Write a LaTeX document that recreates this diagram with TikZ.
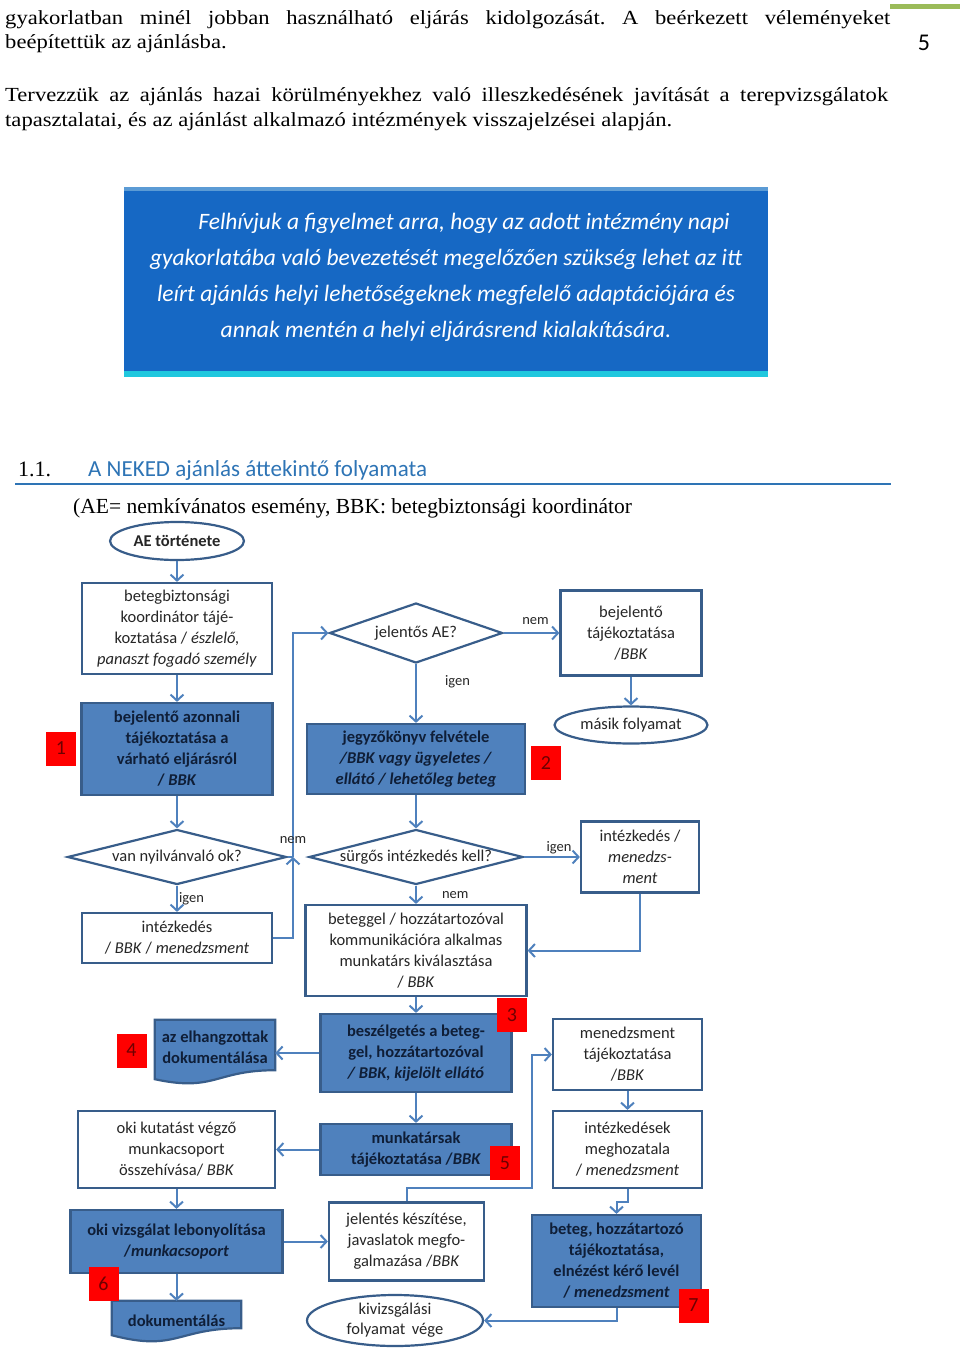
\documentclass[tikz,border=0pt]{standalone}
\usepackage{fontspec}
\setmainfont{Liberation Serif}
\newfontfamily\bodyfont[FakeStretch=1.13]{Liberation Serif}
\newfontfamily\calib{Carlito}
\usetikzlibrary{arrows.meta, shapes.geometric, calc, backgrounds}
\definecolor{flowblue}{RGB}{79,129,189}
\definecolor{boxline}{RGB}{56,93,138}
\definecolor{boxtext}{RGB}{38,38,38}
\definecolor{navytext}{RGB}{15,30,55}
\definecolor{tagred}{RGB}{255,0,0}
\definecolor{tagtext}{RGB}{110,0,0}
\definecolor{bannerblue}{RGB}{22,104,196}
\definecolor{bannertop}{RGB}{91,155,213}
\definecolor{bannerbot}{RGB}{32,200,222}
\definecolor{headblue}{RGB}{46,116,181}
\definecolor{pagegreen}{RGB}{155,187,89}
\frenchspacing
\begin{document}
\begin{tikzpicture}[x=1pt, y=-1pt,
		>={Straight Barb[length=6pt,width=13pt]},
		bodyline/.style={anchor=base west, inner sep=0pt, font=\bodyfont\fontsize{20}{25}\selectfont},
		whitebox/.style={rectangle, draw=boxline, line width=2.2pt, fill=white, align=center, inner sep=0pt, text=boxtext, font=\calib\fontsize{16.5}{21}\selectfont},
		bluebox/.style={whitebox, fill=flowblue, text=navytext, font=\calib\bfseries\fontsize{16.5}{21}\selectfont},
		docbox/.style={rectangle, draw=none, align=center, inner sep=0pt, text=navytext, font=\calib\bfseries\fontsize{16.5}{21}\selectfont},
		docline/.style={draw=boxline, line width=2.2pt, fill=flowblue},
		roundbox/.style={ellipse, draw=boxline, line width=2.2pt, fill=white, align=center, inner sep=0pt, text=boxtext, font=\calib\fontsize{16.5}{20}\selectfont},
		decision/.style={diamond, draw=boxline, line width=2.2pt, fill=white, inner sep=0pt, label={[text=boxtext, font=\calib\fontsize{16.5}{20}\selectfont]center:#1}},
		tag/.style={rectangle, fill=tagred, text=tagtext, inner sep=0pt, minimum width=30, minimum height=34, font=\calib\fontsize{20}{20}\selectfont},
		flow/.style={->, draw=flowblue, line width=2pt},
		lbl/.style={inner sep=1pt, text=boxtext, font=\calib\fontsize{14.5}{16}\selectfont}
		]
		\useasboundingbox (0,0) rectangle (960,1358);

		\fill[pagegreen] (890,4) rectangle (960,9);
		\node[font=\calib\fontsize{24}{24}\selectfont] (P0) at (924,43) {5};
		\node[bodyline] (T0) at (5,24) {\makebox[885pt][s]{gyakorlatban minél jobban használható eljárás kidolgozását. A beérkezett véleményeket}};
		\node[bodyline] (T1) at (5,48) {beépítettük az ajánlásba.};
		\node[bodyline] (T2) at (5,101) {\makebox[883pt][s]{Tervezzük az ajánlás hazai körülményekhez való illeszkedésének javítását a terepvizsgálatok}};
		\node[bodyline] (T3) at (5,126) {tapasztalatai, és az ajánlást alkalmazó intézmények visszajelzései alapján.};

		\fill[bannerblue] (124,187) rectangle (768,377);
		\fill[bannertop] (124,187) rectangle (768,191);
		\fill[bannerbot] (124,371) rectangle (768,377);
		\node[align=center, text=white, font=\calib\itshape\fontsize{23.5}{36}\selectfont] (B0) at (446,277.5) {\hspace*{36pt}Felhívjuk a figyelmet arra, hogy az adott intézmény napi\\
			gyakorlatába való bevezetését megelőzően szükség lehet az itt\\
			leírt ajánlás helyi lehetőségeknek megfelelő adaptációjára és\\
			annak mentén a helyi eljárásrend kialakítására.};

		\node[anchor=base west, inner sep=0pt, font=\fontsize{22}{22}\selectfont] (H0) at (18,476) {1.1.};
		\node[anchor=base west, inner sep=0pt, text=headblue, font=\calib\fontsize{23}{23}\selectfont] (H1) at (88,476) {A NEKED ajánlás áttekintő folyamata};
		\draw[headblue, line width=2pt] (15,484) -- (891,484);
		\node[anchor=base west, inner sep=0pt, font=\fontsize{21.5}{21.5}\selectfont] (H2) at (73,513) {(AE= nemkívánatos esemény, BBK: betegbiztonsági koordinátor};

		\node[roundbox, font=\calib\bfseries\fontsize{16.5}{20}\selectfont, minimum width=134, minimum height=38] (S0) at (177,541) {AE története};
		\node[whitebox, minimum width=190, minimum height=91] (S1) at (177,628.5) {betegbiztonsági\\koordinátor tájé-\\koztatása / \textit{észlelő,}\\\textit{panaszt fogadó személy}};
		\draw[flow] (S0) -- (S1);
		\node[bluebox, minimum width=191, minimum height=92] (S2) at (177,749) {bejelentő azonnali\\tájékoztatása a\\várható eljárásról\\/ \textit{BBK}};
		\draw[flow] (S1) -- (S2);
		\node[decision={jelentős AE?}, minimum width=173, minimum height=60] (S4) at (416,633) {};
		\node[whitebox, minimum width=141, minimum height=85] (S5) at (631,633) {bejelentő\\tájékoztatása\\/\textit{BBK}};
		\draw[flow] (S4) -- (S5) node[lbl, midway, above, xshift=4, yshift=6]{nem};
		\node[roundbox, minimum width=153, minimum height=37] (S6) at (631,725) {másik folyamat};
		\draw[flow] (S5) -- (S6);
		\node[bluebox, minimum width=218, minimum height=70] (S7) at (416,759) {jegyzőkönyv felvétele\\\textit{/BBK vagy ügyeletes /}\\\textit{ellátó / lehetőleg beteg}};
		\draw[flow] (S4) -- (S7) node[lbl, pos=0.3, right, xshift=27]{igen};
		\node[decision={van nyilvánvaló ok?}, minimum width=219, minimum height=55] (S9) at (177,857) {};
		\draw[flow] (S2) -- (S9);
		\node[whitebox, minimum width=190, minimum height=50] (S10) at (177,938) {intézkedés\\/ \textit{BBK} / \textit{menedzsment}};
		\draw[flow] (S9) -- (S10) node[lbl, midway, right]{igen};
		\coordinate (C1) at (293,857);
		\draw[flow] (S10.east) -| (C1);
		\draw[flow] (C1) |- (S4.west);
		\draw[draw=flowblue, line width=2pt] (S9.east) -- (C1) node[lbl, above=11pt]{nem};
		\node[decision={sürgős intézkedés kell?}, minimum width=214, minimum height=55] (S11) at (416,857) {};
		\draw[flow] (S7) -- (S11);
		\node[whitebox, minimum width=118, minimum height=71] (S12) at (640,857) {intézkedés /\\\textit{menedzs-}\\\textit{ment}};
		\draw[flow] (S11) -- (S12) node[lbl, midway, above, xshift=7, yshift=1]{igen};
		\node[whitebox, minimum width=221, minimum height=91] (S13) at (416,950.5) {beteggel / hozzátartozóval\\kommunikációra alkalmas\\munkatárs kiválasztása\\/ \textit{BBK}};
		\draw[flow] (S11) -- (S13) node[lbl, midway, right, xshift=24]{nem};
		\draw[flow] (S12.south) |- (S13.east);
		\node[bluebox, minimum width=191, minimum height=78] (S15) at (416,1053) {beszélgetés a beteg-\\gel, hozzátartozóval\\\textit{/ BBK, kijelölt ellátó}};
		\draw[flow] (S13) -- (S15);
		\node[docbox, minimum width=120, minimum height=54] (S16) at (215,1047) {az elhangzottak\\dokumentálása};
		\begin{scope}[on background layer]
			\draw[docline] (S16.north west) -- (S16.north east) -- ($(S16.south east)+(0,-4)$) .. controls ($(S16.south)+(0,-4)$) and ($(S16.south)+(0,18)$) .. ($(S16.south west)+(0,5)$) -- cycle;
		\end{scope}
		\draw[flow] (S15.west) -- (S15.west -| S16.east);
		\node[whitebox, minimum width=149, minimum height=71] (S18) at (627.5,1054.5) {menedzsment\\tájékoztatása\\/\textit{BBK}};
		\node[whitebox, minimum width=197, minimum height=77] (S19) at (176.5,1149.5) {oki kutatást végző\\munkacsoport\\összehívása/ \textit{BBK}};
		\node[bluebox, minimum width=191, minimum height=51] (S20) at (416,1149.5) {munkatársak\\tájékoztatása /\textit{BBK}};
		\draw[flow] (S15) -- (S20);
		\draw[flow] (S20) -- (S19);
		\node[whitebox, minimum width=149, minimum height=77] (S22) at (627.5,1149.5) {intézkedések\\meghozatala\\/ \textit{menedzsment}};
		\draw[flow] (S18) -- (S22);
		\node[bluebox, minimum width=212, minimum height=63] (S23) at (176.5,1241.5) {oki vizsgálat lebonyolítása\\/\textit{munkacsoport}};
		\draw[flow] (S19) -- (S23);
		\node[docbox, minimum width=129, minimum height=40] (S25) at (176.5,1321) {dokumentálás};
		\begin{scope}[on background layer]
			\draw[docline] (S25.north west) -- (S25.north east) -- ($(S25.south east)+(0,-13)$) .. controls ($(S25.south)+(0,-13)$) and ($(S25.south)+(0,11)$) .. ($(S25.south west)+(0,-6)$) -- cycle;
		\end{scope}
		\draw[flow] (S23) -- (S25);
		\node[whitebox, minimum width=155, minimum height=78] (S26) at (406.5,1241.5) {jelentés készítése,\\javaslatok megfo-\\galmazása /\textit{BBK}};
		\draw[flow] (S23) -- (S26);
		\coordinate (C2) at (532,1188);
		\draw[flow] (S26.north) |- (C2) |- (S18.west);
		\node[roundbox, minimum width=176, minimum height=51] (S27) at (395,1320.5) {kivizsgálási\\folyamat\, vége};
		\node[bluebox, minimum width=169, minimum height=92] (S28) at (616.5,1261) {beteg, hozzátartozó\\tájékoztatása,\\elnézést kérő levél\\/ \textit{menedzsment}};
		\coordinate (C3) at (616.5,1202);
		\draw[flow] (S22.south) |- (C3) -- (S28.north);
		\draw[flow] (S28.south) |- (S27.east);

		\node[tag] (S3) at (61,748.5) {1};
		\node[tag] (S8) at (546,762.5) {2};
		\node[tag] (S14) at (512,1015) {3};
		\node[tag] (S17) at (131.5,1050.5) {4};
		\node[tag] (S21) at (505,1163) {5};
		\node[tag] (S24) at (103.5,1283.5) {6};
		\node[tag] (S29) at (693.5,1305.5) {7};
	\end{tikzpicture}
\end{document}
